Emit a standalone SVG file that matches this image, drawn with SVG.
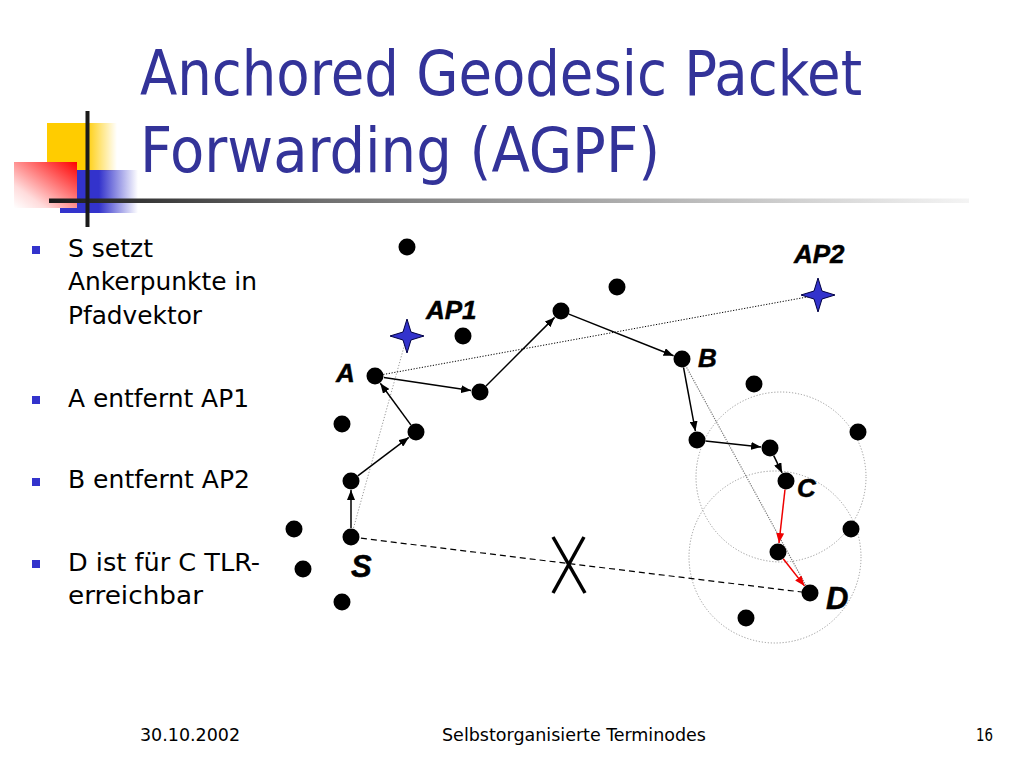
<svg xmlns="http://www.w3.org/2000/svg" width="1024" height="768" viewBox="0 0 1024 768">
<style>
.title{font-family:"DejaVu Sans Condensed","DejaVu Sans",sans-serif;font-size:63px;fill:#333399}
.bul{font-family:"DejaVu Sans Condensed","DejaVu Sans",sans-serif;font-size:25px;fill:#000}
.foot{font-family:"DejaVu Sans Condensed","DejaVu Sans",sans-serif;font-size:17px;fill:#000}
.lbl{font-family:"Liberation Sans",Arial,sans-serif;font-weight:bold;font-style:italic;font-size:26px;fill:#000;stroke:#000;stroke-width:0.5}
.lblL{font-family:"Liberation Sans",Arial,sans-serif;font-weight:bold;font-style:italic;font-size:31px;fill:#000;stroke:#000;stroke-width:0.5}
.dot{fill:#000}
.arr{stroke:#000;stroke-width:1.5;fill:none;marker-end:url(#ah)}
.arrR{stroke:#ee0000;stroke-width:1.5;fill:none;marker-end:url(#ahR)}
.gdot{stroke:#999;stroke-width:1;fill:none;stroke-dasharray:1.2,1.8}
.star{fill:#3333cc;stroke:#000044;stroke-width:1}
</style>
<defs>
<marker id="ah" markerUnits="userSpaceOnUse" markerWidth="10" markerHeight="8" refX="10" refY="4" orient="auto" viewBox="0 0 10 8"><path d="M0,0 L10,4 L0,8 z" fill="#000"/></marker>
<marker id="ahR" markerUnits="userSpaceOnUse" markerWidth="10" markerHeight="8" refX="10" refY="4" orient="auto" viewBox="0 0 10 8"><path d="M0,0 L10,4 L0,8 z" fill="#ee0000"/></marker>
<linearGradient id="gY" x1="0" y1="0" x2="1" y2="0"><stop offset="0" stop-color="#ffcc00"/><stop offset="0.55" stop-color="#ffcc00"/><stop offset="1" stop-color="#ffcc00" stop-opacity="0"/></linearGradient>
<linearGradient id="gB" x1="0" y1="0" x2="1" y2="0"><stop offset="0" stop-color="#3333cc"/><stop offset="0.5" stop-color="#3333cc"/><stop offset="1" stop-color="#3333cc" stop-opacity="0"/></linearGradient>
<linearGradient id="gR" x1="1" y1="0" x2="0" y2="1"><stop offset="0" stop-color="#ff0000"/><stop offset="0.75" stop-color="#ffdcdc"/><stop offset="1" stop-color="#ffffff"/></linearGradient>
<linearGradient id="gH" x1="0" y1="0" x2="1" y2="0"><stop offset="0" stop-color="#1a1a1a"/><stop offset="0.3" stop-color="#707070"/><stop offset="1" stop-color="#f4f4f4"/></linearGradient>
</defs>
<rect width="1024" height="768" fill="#fff"/>
<g id="logo">
<rect x="47" y="123" width="70" height="48" fill="url(#gY)"/>
<rect x="60" y="170" width="78" height="43" fill="url(#gB)"/>
<rect x="14" y="162" width="63" height="46" fill="url(#gR)"/>
<rect x="49" y="198.5" width="920" height="4.5" fill="url(#gH)"/>
<rect x="85.5" y="111" width="4" height="116" fill="#1a1a1a"/>
</g>
<g id="title">
<text class="title" x="140" y="95" textLength="722" lengthAdjust="spacingAndGlyphs">Anchored Geodesic Packet</text>
<text class="title" x="140" y="172" textLength="520" lengthAdjust="spacingAndGlyphs">Forwarding (AGPF)</text>
</g>
<g id="bullets">
<rect x="32" y="246" width="8" height="8" fill="#3333cc"/>
<text class="bul" x="68" y="257" textLength="85" lengthAdjust="spacingAndGlyphs">S setzt</text>
<text class="bul" x="68" y="290" textLength="189" lengthAdjust="spacingAndGlyphs">Ankerpunkte in</text>
<text class="bul" x="68" y="324" textLength="134" lengthAdjust="spacingAndGlyphs">Pfadvektor</text>
<rect x="32" y="396" width="8" height="8" fill="#3333cc"/>
<text class="bul" x="68" y="407" textLength="181" lengthAdjust="spacingAndGlyphs">A entfernt AP1</text>
<rect x="32" y="478" width="8" height="8" fill="#3333cc"/>
<text class="bul" x="68" y="488" textLength="182" lengthAdjust="spacingAndGlyphs">B entfernt AP2</text>
<rect x="32" y="560" width="8" height="8" fill="#3333cc"/>
<text class="bul" x="68" y="571" textLength="192" lengthAdjust="spacingAndGlyphs">D ist für C TLR-</text>
<text class="bul" x="68" y="604" textLength="135" lengthAdjust="spacingAndGlyphs">erreichbar</text>
</g>
<g id="connectors">
<circle class="gdot" cx="781" cy="477" r="85"/>
<circle class="gdot" cx="775" cy="557" r="86"/>
<line class="gdot" x1="407" y1="336" x2="351" y2="537"/>
<line x1="682" y1="359" x2="810" y2="593" stroke="#777" stroke-width="1.2" stroke-dasharray="1.2,1.2"/>
<line x1="375" y1="376" x2="818" y2="295" stroke="#000" stroke-width="1" stroke-dasharray="1.2,1.6"/>
<line x1="351" y1="537" x2="810" y2="593" stroke="#000" stroke-width="1.2" stroke-dasharray="6,4"/>
<line class="arr" x1="351" y1="528" x2="351" y2="490"/>
<line class="arr" x1="357.8" y1="475.9" x2="408.8" y2="437.4"/>
<line class="arr" x1="411" y1="425.1" x2="380.3" y2="383.3"/>
<line class="arr" x1="383.9" y1="377.4" x2="471.1" y2="390.6"/>
<line class="arr" x1="486" y1="386" x2="554.6" y2="317.4"/>
<line class="arr" x1="568.9" y1="314.1" x2="673.6" y2="355.7"/>
<line class="arr" x1="683.5" y1="367.4" x2="695.4" y2="431.2"/>
<line class="arr" x1="705.5" y1="440.9" x2="761.1" y2="447"/>
<line class="arr" x1="773.7" y1="455.6" x2="782.1" y2="472.9"/>
<line class="arrR" x1="785" y1="489.5" x2="779" y2="543"/>
<line class="arrR" x1="783.2" y1="558.7" x2="804.5" y2="585.9"/>
<g id="xmark" stroke="#000" stroke-width="3.5" fill="none">
<line x1="553" y1="537" x2="585" y2="593"/>
<line x1="584" y1="537" x2="553" y2="593"/>
</g>
</g>
<g id="node-AP1"><path class="star" d="M407,319 L411,332 L424,336 L411,340 L407,353 L403,340 L390,336 L403,332 Z"/><text class="lbl" x="426" y="319">AP1</text></g>
<g id="node-AP2"><path class="star" d="M818,278 L822,291 L835,295 L822,299 L818,312 L814,299 L801,295 L814,291 Z"/><text class="lbl" x="794" y="263">AP2</text></g>
<g id="node-S"><circle class="dot" cx="351" cy="537" r="8.5"/><text class="lblL" x="351" y="577">S</text></g>
<g id="node-A"><circle class="dot" cx="375" cy="376" r="8.5"/><text class="lbl" x="336" y="382">A</text></g>
<g id="node-B"><circle class="dot" cx="682" cy="359" r="8.5"/><text class="lbl" x="698" y="367">B</text></g>
<g id="node-C"><circle class="dot" cx="786" cy="481" r="8.5"/><text class="lbl" x="797" y="497">C</text></g>
<g id="node-D"><circle class="dot" cx="810" cy="593" r="8.5"/><text class="lblL" x="826" y="609">D</text></g>
<g id="node-n1"><circle class="dot" cx="407" cy="247" r="8.5"/></g>
<g id="node-n2"><circle class="dot" cx="617" cy="287" r="8.5"/></g>
<g id="node-n3"><circle class="dot" cx="561" cy="311" r="8.5"/></g>
<g id="node-n4"><circle class="dot" cx="463" cy="336" r="8.5"/></g>
<g id="node-n5"><circle class="dot" cx="480" cy="392" r="8.5"/></g>
<g id="node-n6"><circle class="dot" cx="754" cy="384" r="8.5"/></g>
<g id="node-n7"><circle class="dot" cx="342" cy="424" r="8.5"/></g>
<g id="node-n8"><circle class="dot" cx="416" cy="432" r="8.5"/></g>
<g id="node-n9"><circle class="dot" cx="697" cy="440" r="8.5"/></g>
<g id="node-n10"><circle class="dot" cx="858" cy="432" r="8.5"/></g>
<g id="node-n11"><circle class="dot" cx="770" cy="448" r="8.5"/></g>
<g id="node-n12"><circle class="dot" cx="351" cy="481" r="8.5"/></g>
<g id="node-n13"><circle class="dot" cx="294" cy="529" r="8.5"/></g>
<g id="node-n14"><circle class="dot" cx="851" cy="529" r="8.5"/></g>
<g id="node-n15"><circle class="dot" cx="778" cy="552" r="8.5"/></g>
<g id="node-n16"><circle class="dot" cx="303" cy="569" r="8.5"/></g>
<g id="node-n17"><circle class="dot" cx="342" cy="602" r="8.5"/></g>
<g id="node-n18"><circle class="dot" cx="746" cy="618" r="8.5"/></g>
<g id="footer">
<text class="foot" x="140" y="741" textLength="100" lengthAdjust="spacingAndGlyphs">30.10.2002</text>
<text class="foot" x="442" y="741" textLength="264" lengthAdjust="spacingAndGlyphs">Selbstorganisierte Terminodes</text>
<text class="foot" x="976" y="741" textLength="17" lengthAdjust="spacingAndGlyphs">16</text>
</g>
</svg>
